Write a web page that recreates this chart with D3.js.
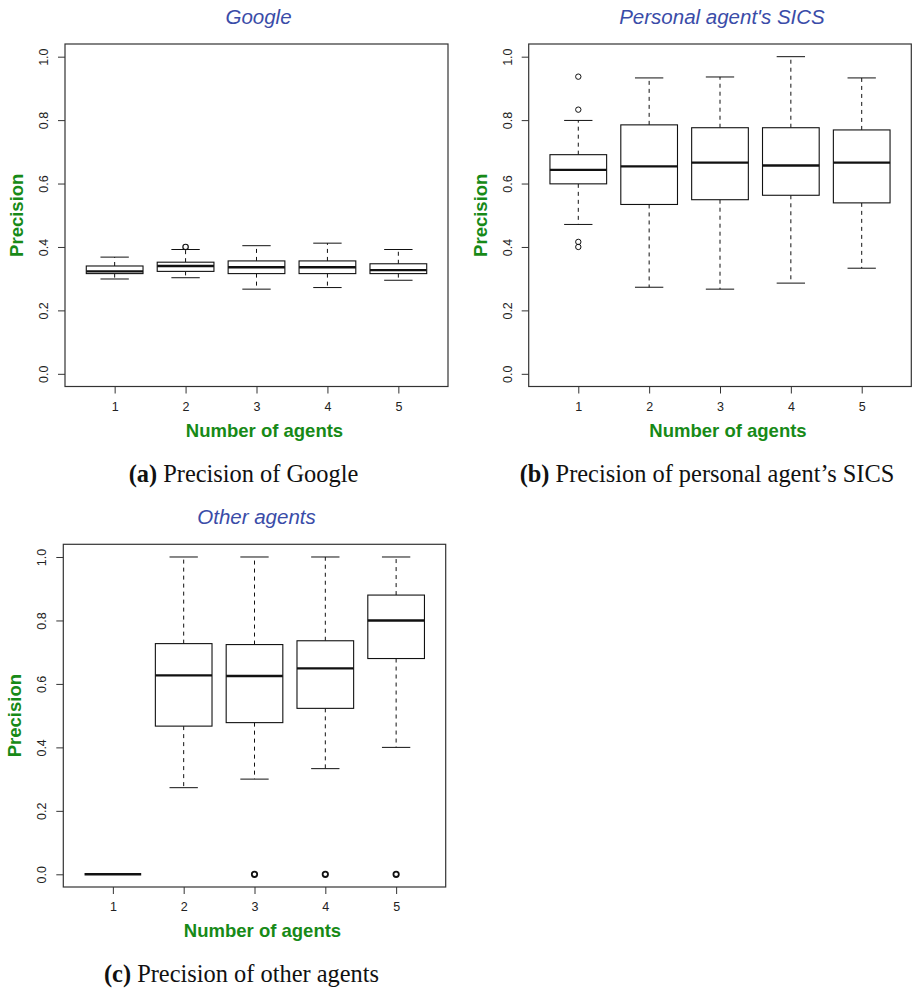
<!DOCTYPE html>
<html>
<head>
<meta charset="utf-8">
<script src="https://cdn.jsdelivr.net/npm/d3@7"></script>
<style>
  body { margin: 0; background: #fff; }
  svg { display: block; }
</style>
</head>
<body>
<div id="chart"></div>
<script>
// groups on the x axis
const agents = [1, 2, 3, 4, 5];
const yTicks = [0, 0.2, 0.4, 0.6, 0.8, 1.0];

// (a) Google
const googleLow    = [0.299, 0.303, 0.267, 0.272, 0.295];
const googleQ1     = [0.316, 0.323, 0.316, 0.316, 0.316];
const googleMedian = [0.323, 0.340, 0.336, 0.336, 0.327];
const googleQ3     = [0.340, 0.352, 0.356, 0.356, 0.347];
const googleHigh   = [0.368, 0.392, 0.404, 0.412, 0.392];
const googleOut    = [[], [0.400], [], [], []];

// (b) personal agent's SICS
const sicsLow    = [0.471, 0.273, 0.267, 0.286, 0.333];
const sicsQ1     = [0.599, 0.534, 0.549, 0.563, 0.539];
const sicsMedian = [0.643, 0.654, 0.666, 0.657, 0.666];
const sicsQ3     = [0.691, 0.785, 0.776, 0.776, 0.769];
const sicsHigh   = [0.799, 0.933, 0.936, 1.000, 0.933];
const sicsOut    = [[0.937, 0.833, 0.416, 0.400], [], [], [], []];

// (c) other agents
const otherLow    = [0, 0.273, 0.300, 0.333, 0.400];
const otherQ1     = [0, 0.467, 0.478, 0.523, 0.680];
const otherMedian = [0, 0.627, 0.625, 0.649, 0.800];
const otherQ3     = [0, 0.727, 0.724, 0.736, 0.880];
const otherHigh   = [0, 1.000, 1.000, 1.000, 1.000];
const otherOut    = [[], [], [0], [0], [0]];

const panels = [
    { title: "Google", tag: "(a)", caption: " Precision of Google",
      low: googleLow, q1: googleQ1, med: googleMedian, q3: googleQ3, high: googleHigh, out: googleOut,
      left: 65, right: 448, top: 44, bottom: 386.5, outStroke: 1.2 },
    { title: "Personal agent's SICS", tag: "(b)", caption: " Precision of personal agent\u2019s SICS",
      low: sicsLow, q1: sicsQ1, med: sicsMedian, q3: sicsQ3, high: sicsHigh, out: sicsOut,
      left: 528.7, right: 911.3, top: 44, bottom: 386.5, outStroke: 1 },
    { title: "Other agents", tag: "(c)", caption: " Precision of other agents",
      low: otherLow, q1: otherQ1, med: otherMedian, q3: otherQ3, high: otherHigh, out: otherOut,
      left: 63.3, right: 445.7, top: 544.3, bottom: 887, outStroke: 1.8 },
];

const width = 912, height = 989;
const svg = d3.select("#chart").append("svg")
    .attr("width", width)
    .attr("height", height);

const sans = "'Liberation Sans', Arial, Helvetica, sans-serif";
const serif = "'Liberation Serif', 'Times New Roman', serif";
const ink = "#111";

function drawPanel(p) {
    const x = d3.scaleLinear().domain([0.3, 5.7]).range([p.left, p.right]);
    const y = d3.scaleLinear().domain([-0.04, 1.04]).range([p.bottom, p.top]);
    const g = svg.append("g");
    const half = 0.4, cap = 0.2;

    const boxes = agents.map((a, i) => ({
        a, low: p.low[i], q1: p.q1[i], med: p.med[i], q3: p.q3[i], high: p.high[i], out: p.out[i]
    }));

    const b = g.selectAll(".box").data(boxes).enter().append("g");

    // whiskers
    b.append("line")
        .attr("x1", d => x(d.a)).attr("x2", d => x(d.a))
        .attr("y1", d => y(d.q3)).attr("y2", d => y(d.high))
        .attr("stroke", ink).attr("stroke-dasharray", "4,4");
    b.append("line")
        .attr("x1", d => x(d.a)).attr("x2", d => x(d.a))
        .attr("y1", d => y(d.q1)).attr("y2", d => y(d.low))
        .attr("stroke", ink).attr("stroke-dasharray", "4,4");
    // staples
    b.append("line")
        .attr("x1", d => x(d.a - cap)).attr("x2", d => x(d.a + cap))
        .attr("y1", d => y(d.high)).attr("y2", d => y(d.high))
        .attr("stroke", ink);
    b.append("line")
        .attr("x1", d => x(d.a - cap)).attr("x2", d => x(d.a + cap))
        .attr("y1", d => y(d.low)).attr("y2", d => y(d.low))
        .attr("stroke", ink);
    // box
    b.append("rect")
        .attr("x", d => x(d.a - half))
        .attr("width", d => x(d.a + half) - x(d.a - half))
        .attr("y", d => y(d.q3))
        .attr("height", d => y(d.q1) - y(d.q3))
        .attr("fill", "white").attr("stroke", ink).attr("stroke-width", 1.1);
    // median
    b.append("line")
        .attr("x1", d => x(d.a - half)).attr("x2", d => x(d.a + half))
        .attr("y1", d => y(d.med)).attr("y2", d => y(d.med))
        .attr("stroke", ink).attr("stroke-width", 2.4);
    // outliers
    b.selectAll("circle").data(d => d.out.map(v => ({ a: d.a, v }))).enter()
        .append("circle")
        .attr("cx", d => x(d.a)).attr("cy", d => y(d.v))
        .attr("r", 2.7)
        .attr("fill", "none").attr("stroke", ink).attr("stroke-width", p.outStroke);

    // frame
    g.append("rect")
        .attr("x", p.left).attr("y", p.top)
        .attr("width", p.right - p.left).attr("height", p.bottom - p.top)
        .attr("fill", "none").attr("stroke", "#333").attr("stroke-width", 1.2);

    // axes
    const yAxis = g.append("g")
        .attr("transform", `translate(${p.left},0)`)
        .call(d3.axisLeft(y).tickValues(yTicks).tickSize(7).tickFormat(d3.format(".1f")));
    yAxis.select(".domain").remove();
    yAxis.selectAll(".tick line").attr("stroke", "#333");
    yAxis.selectAll(".tick text")
        .attr("x", 0).attr("dy", null)
        .attr("transform", "translate(-21,0) rotate(-90)")
        .attr("text-anchor", "middle")
        .attr("dominant-baseline", "central")
        .style("font-family", sans).style("font-size", "12.5px").attr("fill", "#222");

    const xAxis = g.append("g")
        .attr("transform", `translate(0,${p.bottom})`)
        .call(d3.axisBottom(x).tickValues(agents).tickSize(7).tickFormat(d3.format("d")));
    xAxis.select(".domain").remove();
    xAxis.selectAll(".tick line").attr("stroke", "#333");
    xAxis.selectAll(".tick text")
        .attr("y", 20).attr("dy", null)
        .attr("dominant-baseline", "central")
        .style("font-family", sans).style("font-size", "12.5px").attr("fill", "#222");

    const cx = (p.left + p.right) / 2;

    // title
    g.append("text")
        .attr("x", cx + 2).attr("y", p.top - 20)
        .attr("text-anchor", "middle")
        .style("font-family", sans).style("font-size", "20.5px").style("font-style", "italic")
        .attr("fill", "#3a4ca8")
        .text(p.title);

    // axis labels
    g.append("text")
        .attr("x", cx + 8).attr("y", p.bottom + 50)
        .attr("text-anchor", "middle")
        .style("font-family", sans).style("font-size", "18.5px").style("font-weight", "bold")
        .attr("fill", "#178a17")
        .text("Number of agents");
    g.append("text")
        .attr("transform", `translate(${p.left - 42},${(p.top + p.bottom) / 2}) rotate(-90)`)
        .attr("text-anchor", "middle")
        .style("font-family", sans).style("font-size", "18.5px").style("font-weight", "bold")
        .attr("fill", "#178a17")
        .text("Precision");

    // caption
    const cap_ = g.append("text")
        .attr("x", cx - 13).attr("y", p.bottom + 95)
        .attr("text-anchor", "middle")
        .style("font-family", serif).style("font-size", "24.4px")
        .attr("fill", "#111");
    cap_.append("tspan").style("font-weight", "bold").text(p.tag);
    cap_.append("tspan").text(p.caption);
}

panels.forEach(drawPanel);
</script>
</body>
</html>
